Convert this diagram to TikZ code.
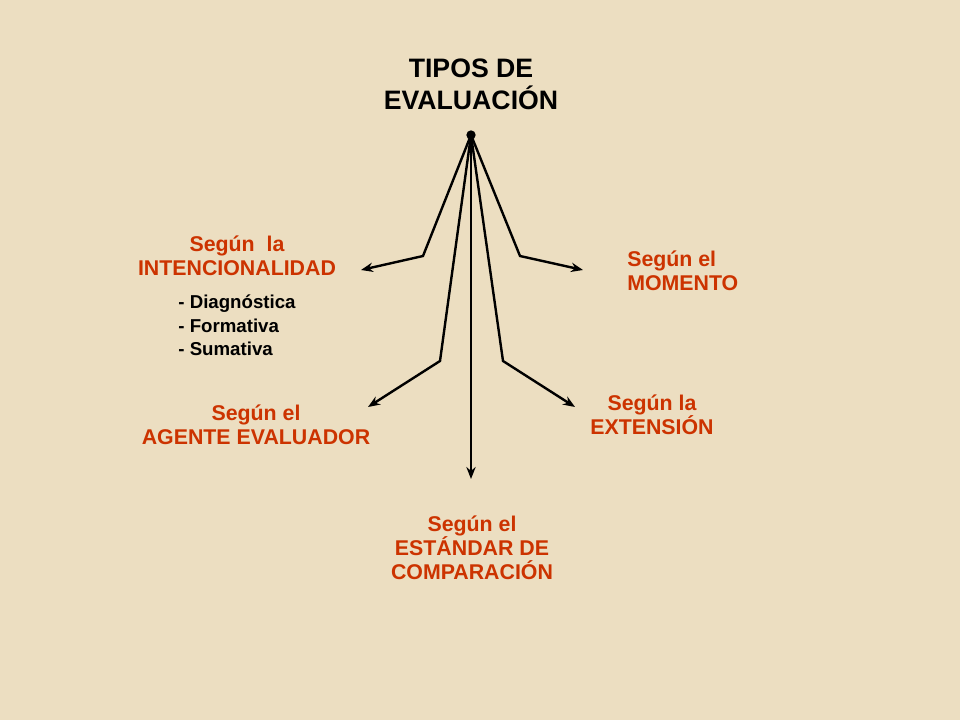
\documentclass[tikz,border=0pt]{standalone}
\usepackage{fontspec}
\setmainfont{Liberation Sans}
\usetikzlibrary{arrows.meta,positioning}
\definecolor{paper}{RGB}{236,222,193}
\definecolor{rust}{RGB}{204,51,0}

\begin{document}
\begin{tikzpicture}
  [x=0.75pt,y=-0.75pt,
   branch/.style={->,line width=1.8pt,>={Stealth[length=9pt,width=7pt]}},
   title/.style={font=\bfseries\fontsize{20}{24}\selectfont,align=center,inner sep=0pt},
   tipo/.style={text=rust,font=\bfseries\fontsize{16}{18}\selectfont,align=center,inner sep=0pt},
   items/.style={font=\bfseries\fontsize{14}{17.5}\selectfont,align=left,inner sep=0pt},
   dot/.style={circle,fill,inner sep=0pt,minimum size=7pt}]

  \fill[paper] (0,0) rectangle (960,720);

  \node[dot]   (root)                          at (471,135) {};
  \node[title] (tipos)     [above=15pt of root]            {TIPOS DE\\EVALUACIÓN};

  \node[tipo]  (intencion)                     at (237,256) {Según~~la\\INTENCIONALIDAD};
  \node[items] (lista)     [below=14pt of intencion]       {- Diagnóstica\\- Formativa\\- Sumativa};
  \node[tipo,align=left,anchor=west] (momento) at (627,271) {Según el\\MOMENTO};
  \node[tipo]  (agente)                        at (256,425) {Según el\\AGENTE EVALUADOR};
  \node[tipo]  (extension)                     at (652,415) {Según la\\EXTENSIÓN};
  \node[tipo]  (estandar)                      at (472,548) {Según el\\ESTÁNDAR DE\\COMPARACIÓN};

  \coordinate (intencion bend) at (423,256);
  \coordinate (intencion tip)  at (361,270);
  \coordinate (momento bend)   at (520,256);
  \coordinate (momento tip)    at (583,270);
  \coordinate (agente bend)    at (440,361);
  \coordinate (agente tip)     at (368,407);
  \coordinate (extension bend) at (503,361);
  \coordinate (extension tip)  at (575,407);
  \coordinate (estandar tip)   at (471,479);

  \draw[branch] (root.center) -- (intencion bend) -- (intencion tip);
  \draw[branch] (root.center) -- (momento bend)   -- (momento tip);
  \draw[branch] (root.center) -- (agente bend)    -- (agente tip);
  \draw[branch] (root.center) -- (extension bend) -- (extension tip);
  \draw[branch] (root.center) -- (estandar tip);
\end{tikzpicture}
\end{document}
